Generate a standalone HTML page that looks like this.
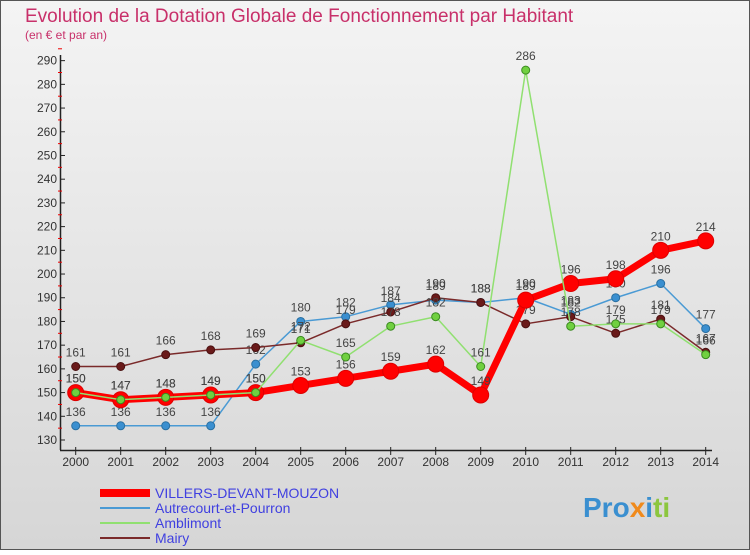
<!DOCTYPE html>
<html><head><meta charset="utf-8"><style>
body{margin:0;width:750px;height:550px;overflow:hidden;font-family:"Liberation Sans",sans-serif}
svg text{font-family:"Liberation Sans",sans-serif}
</style></head><body>
<svg id="c" width="750" height="550" xmlns="http://www.w3.org/2000/svg">
<defs><linearGradient id="bg" x1="0" y1="0" x2="0" y2="1"><stop offset="0" stop-color="#f4f4f4"/><stop offset="1" stop-color="#d6d6d6"/></linearGradient></defs>
<rect x="0" y="0" width="750" height="550" fill="url(#bg)"/>
<rect x="0.5" y="0.5" width="749" height="549" fill="none" stroke="#555"/>
<text x="25" y="22" font-size="19" fill="#c8306a">Evolution de la Dotation Globale de Fonctionnement par Habitant</text>
<text x="25" y="39" font-size="12" fill="#c8306a">(en € et par an)</text>
<g id="axes"></g><g id="series"></g><g id="legend"></g>
<text x="583" y="517" font-size="28" font-weight="bold" fill="#3a8fd0">Pro<tspan fill="#f08a1c">x</tspan><tspan fill="#3a8fd0">i</tspan><tspan fill="#8cc63f">ti</tspan></text>
</svg>
<script>
const years=[2000,2001,2002,2003,2004,2005,2006,2007,2008,2009,2010,2011,2012,2013,2014];
const yTicks=[130,140,150,160,170,180,190,200,210,220,230,240,250,260,270,280,290];
const villers=[150,147,148,149,150,153,156,159,162,149,189,196,198,210,214];
const autrecourt=[136,136,136,136,162,180,182,187,189,188,190,183,190,196,177];
const amblimont=[150,147,148,149,150,172,165,178,182,161,286,178,179,179,166];
const mairy=[161,161,166,168,169,171,179,184,190,188,179,182,175,181,167];
const NS="http://www.w3.org/2000/svg";
const X=i=>75.7+i*45, Y=v=>440-(v-130)*2.371;
function el(t,a,p){const e=document.createElementNS(NS,t);for(const k in a)e.setAttribute(k,a[k]);p.appendChild(e);return e;}
const ax=document.getElementById('axes');
let l=el('line',{x1:60.5,y1:55,x2:60.5,y2:450,stroke:'#222','stroke-width':1.5},ax);


l=el('line',{x1:60,y1:450.5,x2:712,y2:450.5,stroke:'#222','stroke-width':1.5},ax);


yTicks.forEach(v=>{
  const y=Y(v);
  el('line',{x1:60,y1:y,x2:65,y2:y,stroke:'#222'},ax);
  el('line',{x1:58,y1:y-11.85,x2:62,y2:y-11.85,stroke:'#e00'},ax);
  const t=el('text',{x:57,y:y+4,'font-size':12,fill:'#333','text-anchor':'end'},ax);t.textContent=v;
  
  
});
years.forEach((yr,i)=>{
  el('line',{x1:X(i),y1:447,x2:X(i),y2:455,stroke:'#222'},ax);
  const t=el('text',{x:X(i),y:466,'font-size':12,fill:'#333','text-anchor':'middle'},ax);t.textContent=yr;
  
  
});
const sg=document.getElementById('series');
function series(data,name,color,w,r,fill,stroke){
  const g=el('g',{},sg);
  
  
  el('polyline',{points:data.map((v,i)=>X(i)+','+Y(v)).join(' '),fill:'none',stroke:color,'stroke-width':w,'stroke-linejoin':'round'},g);
  data.forEach((v,i)=>{
    const c=el('circle',{cx:X(i),cy:Y(v),r:r,fill:fill,stroke:stroke,'stroke-width':1},g);
    
    
    const t=el('text',{x:X(i),y:Y(v)-10,'font-size':12,fill:'#444','text-anchor':'middle'},g);t.textContent=v;
  });
}
series(autrecourt,'autrecourt-series','#4a9ad4',1.5,4,'#3a8fd0','#2a6fa0');
series(mairy,'mairy-series','#7a2a2a',1.5,4,'#6a1a1a','#4a1010');
series(villers,'villers-series','#f00',7,8,'#f00','#d00');
series(amblimont,'amblimont-series','#90e070',1.5,4,'#70d040','#3a8a20');
const lg=document.getElementById('legend');
[['VILLERS-DEVANT-MOUZON','#f00',8],['Autrecourt-et-Pourron','#4a9ad4',2],['Amblimont','#90e070',2],['Mairy','#7a2a2a',2]].forEach((d,i)=>{
  const y=493+i*15;
  const ln=el('line',{x1:100,y1:y,x2:150,y2:y,stroke:d[1],'stroke-width':d[2]},lg);
  
  
  const t=el('text',{x:155,y:y+5,'font-size':14,fill:'#4040e0'},lg);t.textContent=d[0];
  
  
});
</script>
</body></html>
